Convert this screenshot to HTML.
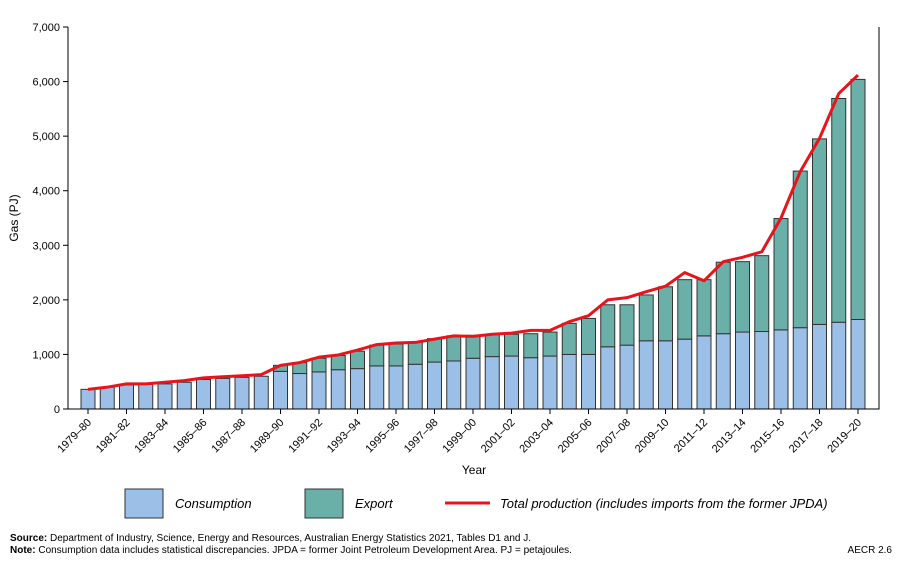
<!DOCTYPE html>
<html><head><meta charset="utf-8"><style>
body{margin:0;background:#fff;font-family:"Liberation Sans",Arial,sans-serif;}
svg text{font-family:"Liberation Sans",Arial,sans-serif;}
</style></head><body>
<svg width="902" height="570">
<g id="plot"></g>
<text x="18" y="218" font-size="12" transform="rotate(-90 18 218)" text-anchor="middle">Gas (PJ)</text>
<text x="474" y="474" font-size="12" text-anchor="middle">Year</text>
<g>
<rect x="125" y="489" width="38" height="29" fill="#9bbfe6" stroke="#333"/>
<text x="175" y="508" font-size="13" font-style="italic">Consumption</text>
<rect x="305" y="489" width="38" height="29" fill="#6aafa8" stroke="#333"/>
<text x="355" y="508" font-size="13" font-style="italic">Export</text>
<line x1="445" y1="503" x2="490" y2="503" stroke="#e8141c" stroke-width="3"/>
<text x="500" y="508" font-size="13" font-style="italic">Total production (includes imports from the former JPDA)</text>
</g>
<text x="10" y="541" font-size="10"><tspan font-weight="bold">Source:</tspan> Department of Industry, Science, Energy and Resources, Australian Energy Statistics 2021, Tables D1 and J.</text>
<text x="10" y="553" font-size="10"><tspan font-weight="bold">Note:</tspan> Consumption data includes statistical discrepancies. JPDA = former Joint Petroleum Development Area.  PJ = petajoules.</text>
<text x="892" y="553" font-size="10" text-anchor="end">AECR 2.6</text>
</svg>
<script>
const years=[];for(let y=1979;y<=2019;y++)years.push(y+"–"+String((y+1)%100).padStart(2,"0"));
const consumption=[360,400,440,450,460,490,540,560,580,600,690,650,680,720,740,790,790,820,860,880,930,960,970,940,970,1000,1000,1140,1170,1250,1250,1280,1340,1380,1410,1420,1450,1490,1550,1590,1640];
const total=[360,400,440,450,460,490,540,560,580,600,800,850,930,980,1060,1170,1190,1220,1290,1340,1350,1370,1370,1380,1410,1570,1660,1910,1910,2090,2240,2370,2370,2690,2700,2810,3490,4360,4950,5690,6040];
const production=[360,400,460,460,490,520,570,590,610,630,800,850,950,990,1080,1180,1210,1220,1280,1340,1330,1370,1390,1440,1440,1600,1710,2000,2040,2150,2250,2500,2350,2700,2780,2880,3500,4350,4960,5780,6120];
const yTicks=[0,1000,2000,3000,4000,5000,6000,7000];
const NS="http://www.w3.org/2000/svg";
const L=68,R=879,T=27,B=409;
const x0=88,step=(858-88)/40,bw=14;
const xs=i=>x0+i*step;
const ys=v=>B-(v/7000)*(B-T);
const g=document.getElementById("plot");
function mk(t,a){const e=document.createElementNS(NS,t);for(const k in a)e.setAttribute(k,a[k]);g.appendChild(e);return e;}
yTicks.forEach(v=>{
const l=mk("line",{x1:L-5,x2:L,y1:ys(v),y2:ys(v),stroke:"#000"});


const t=mk("text",{x:L-8,y:ys(v)+4,"font-size":11,"text-anchor":"end"});t.textContent=v.toLocaleString("en-US");


});
years.forEach((yr,i)=>{
const c=mk("rect",{x:xs(i)-bw/2,y:ys(consumption[i]),width:bw,height:B-ys(consumption[i]),fill:"#9bbfe6",stroke:"#333","stroke-width":1});


const ex=total[i]-consumption[i];
if(ex>0){const e=mk("rect",{x:xs(i)-bw/2,y:ys(total[i]),width:bw,height:ys(consumption[i])-ys(total[i]),fill:"#6aafa8",stroke:"#333","stroke-width":1});

}
if(i%2==0){
const tk=mk("line",{x1:xs(i),x2:xs(i),y1:B,y2:B+5,stroke:"#000"});


const t=mk("text",{x:xs(i)+4,y:B+14,"font-size":11,"text-anchor":"end",transform:`rotate(-45 ${xs(i)+4} ${B+14})`});t.textContent=yr;


}
});
const ax=mk("path",{d:`M${L},${T} V${B} H${R} V${T}`,fill:"none",stroke:"#000"});


const ln=mk("polyline",{points:production.map((v,i)=>xs(i)+","+ys(v)).join(" "),fill:"none",stroke:"#e8141c","stroke-width":3,"stroke-linejoin":"round"});


</script>
</body></html>
